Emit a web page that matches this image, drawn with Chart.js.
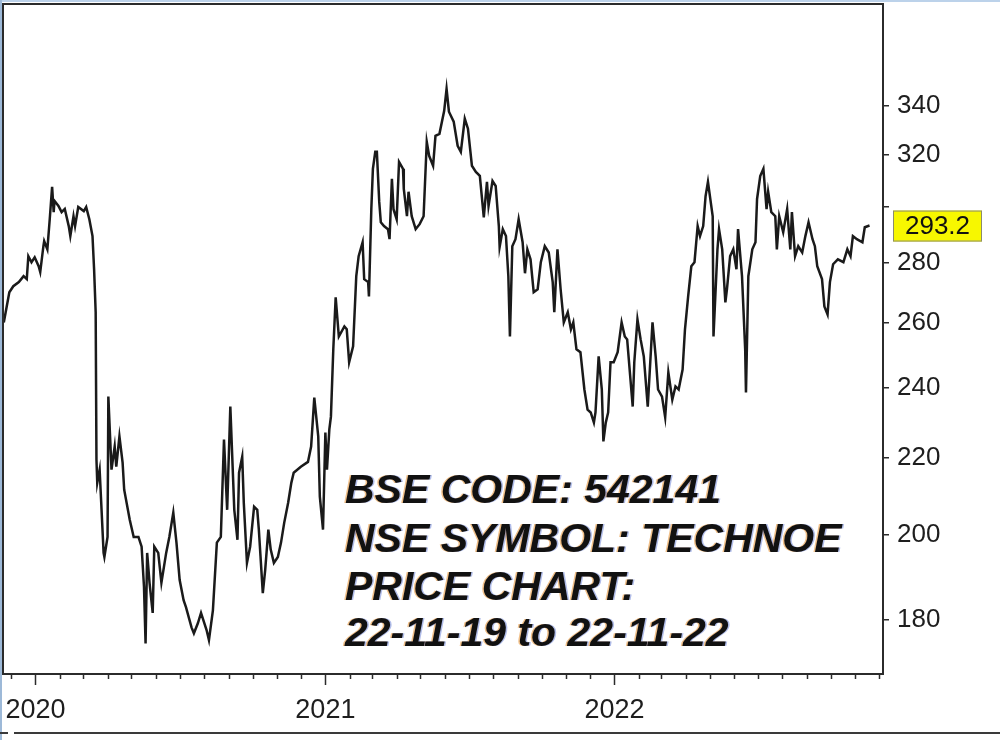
<!DOCTYPE html>
<html>
<head>
<meta charset="utf-8">
<script src="https://cdn.jsdelivr.net/npm/chart.js@4.4.1/dist/chart.umd.min.js"></script>
<style>
  html, body { margin: 0; padding: 0; background: #fff; }
  canvas { display: block; }
</style>
</head>
<body>
<canvas id="priceChart" width="1000" height="740"></canvas>
<script>
// closing prices; x = days since 22-11-2019
const startDate = '2019-11-22';
const days = [
  0, 7, 12, 19, 25, 29, 31, 35, 39, 44,
  46, 50, 51, 55, 58, 61, 63, 64, 69, 73,
  77, 82, 84, 88, 90, 94, 101, 104, 108, 112,
  114, 116, 117, 118, 121, 123, 126, 127, 131, 132,
  136, 140, 142, 146, 150, 152, 159, 164, 170, 174,
  177, 179, 181, 184, 188, 190, 195, 199, 205, 209,
  214, 218, 222, 227, 230, 237, 240, 245, 249, 256,
  259, 264, 269, 274, 278, 282, 286, 291, 295, 297,
  301, 303, 307, 311, 316, 320, 322, 327, 330, 334,
  337, 341, 346, 350, 354, 359, 363, 366, 375, 384,
  388, 392, 397, 399, 403, 406, 408, 411, 413, 416,
  419, 423, 430, 433, 436, 441, 445, 448, 453, 455,
  460, 461, 464, 466, 469, 471, 474, 476, 480, 485,
  487, 490, 492, 496, 499, 504, 505, 509, 511, 515,
  520, 525, 530, 534, 537, 542, 545, 550, 556, 559,
  562, 568, 573, 577, 582, 586, 591, 596, 601, 606,
  610, 612, 617, 621, 625, 626, 630, 634, 637, 639,
  642, 646, 650, 655, 658, 661, 665, 669, 674, 678,
  683, 688, 693, 695, 699, 703, 707, 712, 716, 719,
  723, 728, 733, 737, 741, 745, 747, 751, 755, 757,
  760, 763, 766, 770, 775, 780, 784, 787, 794, 796,
  800, 804, 808, 813, 819, 823, 826, 831, 835, 839,
  844, 848, 852, 857, 860, 864, 868, 872, 876, 879,
  883, 886, 889, 895, 896, 901, 903, 907, 911, 913,
  917, 921, 925, 927, 932, 936, 937, 940, 945, 949,
  951, 955, 959, 963, 965, 969, 974, 976, 979, 984,
  989, 993, 995, 999, 1003, 1008, 1012, 1016, 1021, 1024,
  1027, 1033, 1036, 1040, 1043, 1047, 1053, 1060, 1065, 1069,
  1072, 1077, 1084, 1087, 1093
];
const prices = [
  260.1, 270.0, 272.0, 273.4, 275.4, 274.4, 282.3, 280.2, 281.9, 278.8,
  276.8, 285.8, 287.6, 284.7, 295.5, 307.6, 298.1, 302.3, 300.4, 298.1,
  299.3, 293.0, 289.4, 296.6, 293.0, 300.0, 298.5, 300.0, 295.5, 289.4,
  277.8, 263.4, 219.5, 213.3, 216.8, 208.1, 195.6, 194.6, 199.5, 237.3,
  216.8, 223.1, 217.6, 225.9, 218.7, 211.5, 203.8, 199.5, 199.5, 197.1,
  187.6, 174.9, 195.6, 188.5, 181.6, 197.1, 195.6, 188.5, 195.6, 199.5,
  205.6, 198.1, 189.2, 184.5, 182.9, 178.4, 177.1, 179.3, 181.6, 177.8,
  175.6, 182.2, 198.1, 199.5, 225.0, 206.3, 234.4, 206.3, 198.8, 216.0,
  220.3, 208.1, 193.2, 197.1, 207.1, 206.3, 201.3, 186.1, 191.5, 201.3,
  196.4, 193.2, 194.6, 198.1, 203.0, 208.1, 213.3, 216.0, 217.6, 218.9,
  223.1, 237.0, 225.9, 209.7, 201.3, 227.0, 216.8, 227.9, 231.5, 251.6,
  268.3, 255.6, 258.8, 257.9, 247.6, 252.5, 275.4, 282.3, 287.2, 274.4,
  273.4, 268.6, 299.2, 314.5, 321.2, 321.2, 301.9, 294.4, 293.0, 291.9,
  288.3, 310.6, 299.2, 295.5, 317.2, 314.5, 306.8, 296.6, 305.7, 296.6,
  291.9, 293.7, 296.6, 325.2, 319.6, 315.7, 327.6, 328.4, 337.9, 347.2,
  337.5, 333.4, 323.6, 321.2, 334.6, 330.5, 315.7, 313.3, 311.8, 296.2,
  309.5, 300.4, 309.8, 307.9, 293.0, 285.5, 291.9, 289.4, 275.4, 255.6,
  285.8, 288.3, 295.5, 287.2, 276.4, 284.7, 281.2, 270.0, 271.0, 280.2,
  285.8, 283.6, 273.4, 263.4, 284.7, 271.0, 260.1, 263.4, 257.9, 260.1,
  251.6, 250.7, 239.4, 233.5, 232.7, 229.8, 232.7, 249.4, 239.4, 224.5,
  229.8, 232.7, 247.6, 247.6, 250.7, 260.1, 255.6, 254.7, 234.4, 247.6,
  261.1, 254.7, 249.4, 234.4, 260.1, 249.4, 239.4, 237.3, 231.3, 244.5,
  236.4, 240.3, 239.4, 245.4, 257.9, 268.6, 278.8, 280.2, 293.0, 289.4,
  293.0, 304.1, 309.5, 296.6, 255.6, 284.7, 291.9, 284.7, 266.6, 271.0,
  282.3, 284.7, 277.8, 291.9, 275.4, 251.6, 238.5, 275.4, 284.7, 287.2,
  303.0, 311.7, 314.5, 299.2, 305.7, 298.1, 296.6, 284.7, 296.6, 290.8,
  299.2, 284.7, 298.1, 282.3, 285.8, 283.6, 289.4, 294.4, 288.3, 285.8,
  278.8, 274.4, 265.3, 262.7, 273.4, 279.5, 281.2, 280.2, 284.7, 282.3,
  289.4, 288.3, 287.2, 292.6, 293.2
];
const yTicks = [180, 200, 220, 240, 260, 280, 300, 320, 340];
const noteLines = ['BSE CODE: 542141', 'NSE SYMBOL: TECHNOE', 'PRICE CHART:', '22-11-19 to 22-11-22'];

const lastPrice = prices[prices.length - 1];
const xMax = 1110;

// month starts as days from the start date, January gets the year label
const t0 = Date.parse(startDate);
const monthTicks = [];
for (let y = 2019; y <= 2022; y++) {
  for (let m = 0; m < 12; m++) {
    const d = (Date.UTC(y, m, 1) - t0) / 864e5;
    if (d > 0 && d < xMax) monthTicks.push({ value: d, label: m === 0 ? String(y) : '' });
  }
}

const FONT = '"Liberation Sans", Arial, sans-serif';

const decorPlugin = {
  id: 'decor',
  beforeDraw(chart) {
    const ctx = chart.ctx;
    ctx.save();
    ctx.fillStyle = '#fff';
    ctx.fillRect(0, 0, chart.width, chart.height);
    ctx.restore();
  },
  afterDraw(chart) {
    const { ctx, chartArea: a } = chart;
    const xs = chart.scales.x, ys = chart.scales.y;
    ctx.save();

    // window edges
    ctx.fillStyle = '#bcd2ea';
    ctx.fillRect(0, 0, chart.width, 2);
    ctx.fillStyle = '#9db9d8';
    ctx.fillRect(0, 0, 2, chart.height);
    ctx.fillStyle = '#3a3a3a';
    ctx.fillRect(0, 732, 8, 2);
    ctx.fillRect(14, 732, chart.width - 14, 2);

    // plot frame
    ctx.strokeStyle = '#2b2b2b';
    ctx.lineWidth = 2;
    ctx.strokeRect(a.left, a.top, a.right - a.left, a.bottom - a.top);

    // month tick marks under the x axis, longer at each new year
    ctx.lineWidth = 1.5;
    monthTicks.forEach(t => {
      const px = Math.round(xs.getPixelForValue(t.value)) + 0.5;
      ctx.beginPath();
      ctx.moveTo(px, a.bottom);
      ctx.lineTo(px, a.bottom + (t.label ? 11 : 5));
      ctx.stroke();
    });

    // last price badge
    const py = ys.getPixelForValue(lastPrice);
    ctx.fillStyle = '#f7f700';
    ctx.fillRect(893, py - 15, 89, 31);
    ctx.strokeStyle = '#8c8c6c';
    ctx.lineWidth = 1;
    ctx.strokeRect(893.5, py - 14.5, 88, 30);
    ctx.fillStyle = '#111';
    ctx.font = '26px ' + FONT;
    ctx.textAlign = 'center';
    ctx.textBaseline = 'middle';
    ctx.fillText(lastPrice.toFixed(1), 937.5, py + 1);

    // stock note
    ctx.font = 'italic bold 41px ' + FONT;
    ctx.textAlign = 'left';
    ctx.textBaseline = 'alphabetic';
    const baselines = [503, 552, 600, 646];
    noteLines.forEach((line, i) => {
      ctx.fillStyle = 'rgba(230, 140, 40, 0.55)';
      ctx.fillText(line, 343.5, baselines[i]);
      ctx.fillStyle = 'rgba(60, 90, 200, 0.4)';
      ctx.fillText(line, 346.5, baselines[i]);
      ctx.fillStyle = '#111';
      ctx.fillText(line, 345, baselines[i]);
    });
    ctx.restore();
  }
};

new Chart(document.getElementById('priceChart'), {
  type: 'line',
  data: {
    datasets: [{
      data: days.map((d, i) => ({ x: d, y: prices[i] })),
      borderColor: '#1a1a1a',
      borderWidth: 2.5,
      pointRadius: 0,
      tension: 0,
      fill: false
    }]
  },
  options: {
    responsive: false,
    animation: false,
    layout: { padding: { left: 3, top: 4, right: 0, bottom: 0 } },
    plugins: {
      legend: { display: false },
      tooltip: { enabled: false }
    },
    scales: {
      x: {
        type: 'linear',
        position: 'bottom',
        min: -1,
        max: xMax,
        afterBuildTicks: s => { s.ticks = monthTicks.map(t => ({ value: t.value })); },
        afterFit: s => {
          s.height = 66;
          s.paddingLeft = 0; s.paddingRight = 0;
        },
        grid: { display: false, drawTicks: false },
        border: { display: false },
        ticks: {
          autoSkip: false,
          maxRotation: 0,
          padding: 20,
          color: '#1e1e1e',
          font: { family: FONT, size: 27 },
          callback: (v, i) => monthTicks[i] ? monthTicks[i].label : ''
        }
      },
      y: {
        type: 'logarithmic',
        position: 'right',
        min: 168.4,
        max: 385.6,
        afterBuildTicks: s => { s.ticks = yTicks.map(v => ({ value: v })); },
        afterFit: s => {
          s.width = 117;
          s.paddingTop = 0; s.paddingBottom = 0;
        },
        grid: { drawOnChartArea: false, drawTicks: true, tickLength: 6, color: '#2b2b2b', lineWidth: 1.5 },
        border: { display: true, color: '#2b2b2b', width: 2 },
        ticks: {
          padding: 8,
          color: '#1e1e1e',
          font: { family: FONT, size: 26 },
          callback: v => v === 300 ? '' : String(v)
        }
      }
    }
  },
  plugins: [decorPlugin]
});
</script>
</body>
</html>
